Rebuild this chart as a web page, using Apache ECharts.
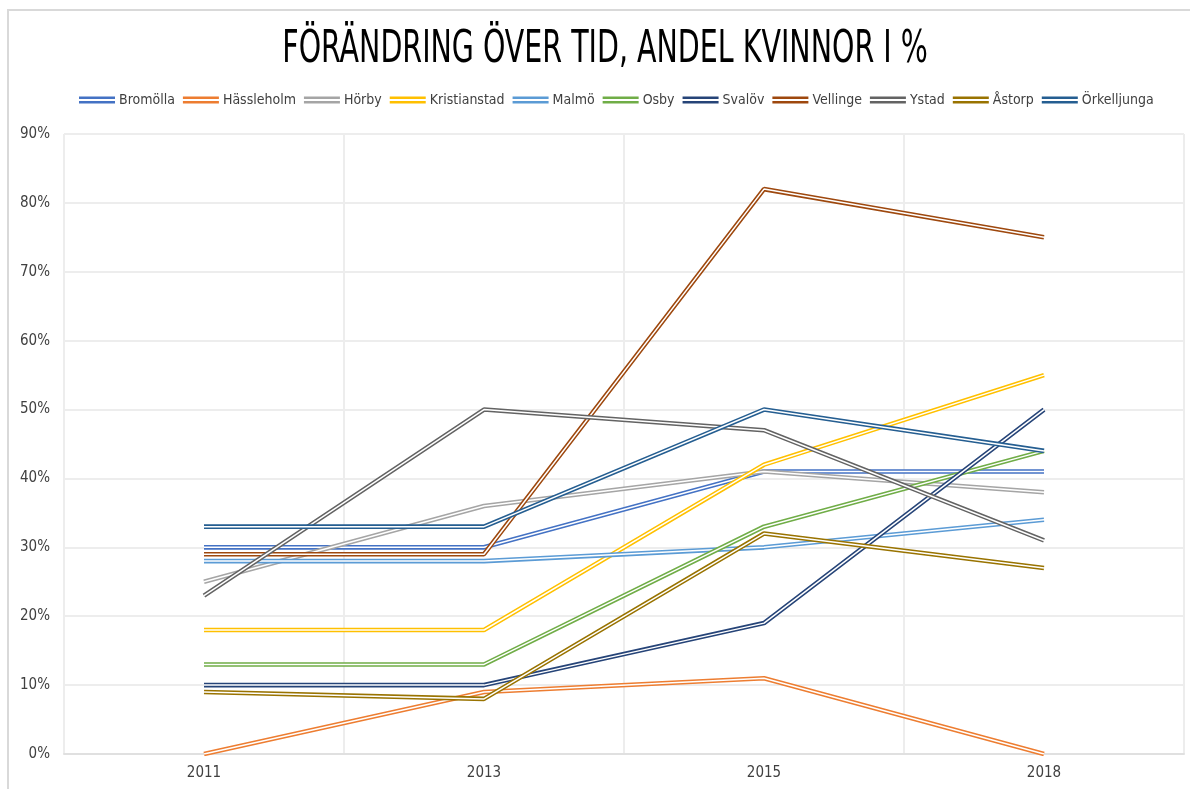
<!DOCTYPE html>
<html>
<head>
<meta charset="utf-8">
<script src="https://cdn.jsdelivr.net/npm/echarts@6/dist/echarts.min.js"></script>
<style>
  html, body { margin: 0; padding: 0; background: #fff; }
  #chart { width: 1190px; height: 789px; }
</style>
</head>
<body>
<div id="chart"></div>
<script>
// andel kvinnor per kommun
const years = ['2011', '2013', '2015', '2018'];
const kommuner = ['Bromölla', 'Hässleholm', 'Hörby', 'Kristianstad', 'Malmö', 'Osby', 'Svalöv', 'Vellinge', 'Ystad', 'Åstorp', 'Örkelljunga'];
const colors = ['#4472C4', '#ED7D31', '#A5A5A5', '#FFC000', '#5B9BD5', '#70AD47', '#264478', '#9E480E', '#636363', '#997300', '#255E91'];

const bromolla = [30, 30, 41, 41];
const hassleholm = [0, 9, 11, 0];
const horby = [25, 36, 41, 38];
const kristianstad = [18, 18, 42, 55];
const malmo = [28, 28, 30, 34];
const osby = [13, 13, 33, 44];
const svalov = [10, 10, 19, 50];
const vellinge = [29, 29, 82, 75];
const ystad = [23, 50, 47, 31];
const astorp = [9, 8, 32, 27];
const orkelljunga = [33, 33, 50, 44];

const values = [bromolla, hassleholm, horby, kristianstad, malmo, osby, svalov, vellinge, ystad, astorp, orkelljunga];

const FONT = '"Liberation Sans Narrow", "DejaVu Sans Condensed", sans-serif';

const chart = echarts.init(document.getElementById('chart'));

// dubbellinje: färgad bred linje + smal vit linje ovanpå
const series = [];
kommuner.forEach((name, i) => {
    series.push({
        name: name, type: 'line', data: values[i], symbol: 'none', color: colors[i],
        lineStyle: { width: 4.6, color: colors[i] }, silent: true
    });
    series.push({
        name: name + ' inner', type: 'line', data: values[i], symbol: 'none', color: '#fff',
        lineStyle: { width: 1.5, color: '#ffffff' }, silent: true
    });
});

const option = {
    backgroundColor: '#fff',
    animation: false,
    legend: {
        data: kommuner, top: 88, left: 74, itemGap: 8,
        icon: 'path://M0,0H36V2.5H0Z M0,4.5H36V7H0Z', itemWidth: 36, itemHeight: 7,
        textStyle: { fontFamily: FONT, fontSize: 14, color: '#404040', padding: [0, 0, 0, -1] }
    },
    graphic: [{
        type: 'rect', shape: { x: 8, y: 10, width: 1200, height: 800 },
        style: { fill: 'none', stroke: '#D9D9D9', lineWidth: 2 }, silent: true, z: -1
    }, {
        // titeln: smal och hög som i originalet
        type: 'text', x: 605, y: 51, scaleX: 0.72, originX: 0,
        style: {
            text: 'FÖRÄNDRING ÖVER TID, ANDEL KVINNOR I %',
            font: '44px ' + FONT, fill: '#000', align: 'center', verticalAlign: 'middle'
        }
    }],
    grid: { left: 64, right: 6, top: 134, bottom: 35 },
    xAxis: {
        type: 'category', data: years, boundaryGap: true,
        axisLine: { lineStyle: { color: '#E0E0E0', width: 2 } },
        axisTick: { show: false },
        axisLabel: { fontFamily: FONT, fontSize: 15, color: '#404040', margin: 12 },
        splitLine: { show: true, lineStyle: { color: '#EDEDED', width: 2 } }
    },
    yAxis: {
        type: 'value', min: 0, max: 90, interval: 10,
        axisLine: { show: false }, axisTick: { show: false },
        axisLabel: { formatter: '{value}%', fontFamily: FONT, fontSize: 15, color: '#404040', margin: 14 },
        splitLine: { lineStyle: { color: '#EDEDED', width: 2 } }
    },
    series: series
};

chart.setOption(option);
</script>
</body>
</html>
